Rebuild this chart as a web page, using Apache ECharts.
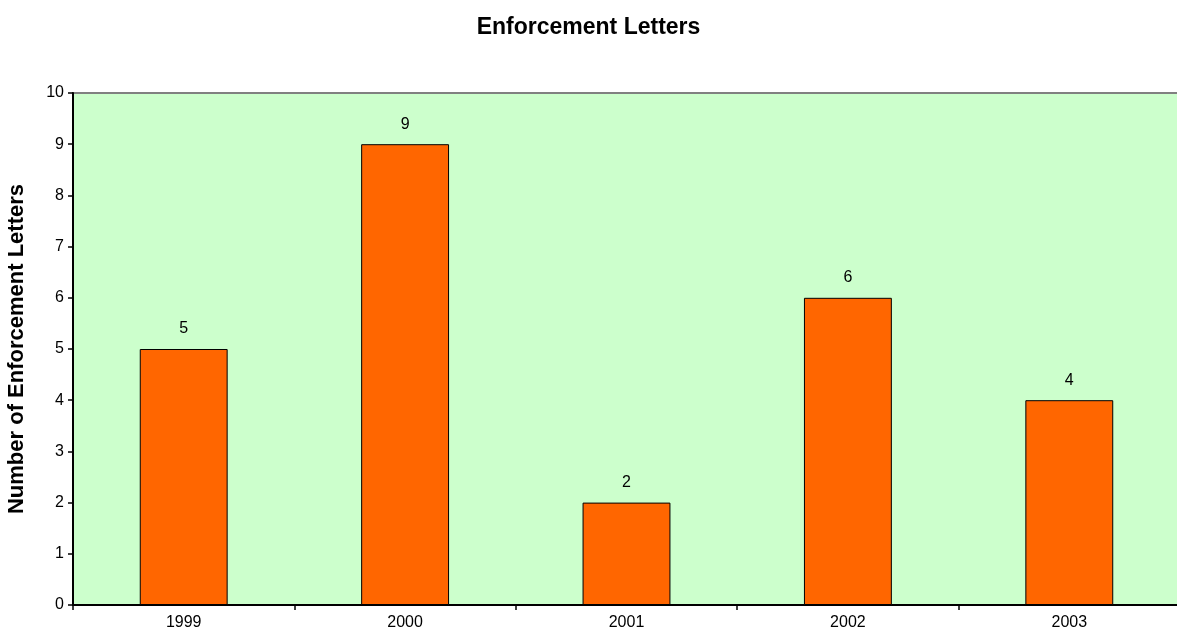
<!DOCTYPE html>
<html>
<head>
<meta charset="utf-8">
<script src="https://cdn.jsdelivr.net/npm/echarts@6/dist/echarts.min.js"></script>
<style>
  html, body { margin: 0; padding: 0; background: #fff; }
  #chart { width: 1177px; height: 642px; }
</style>
</head>
<body>
<div id="chart"></div>
<script>
// data
const years = ['1999', '2000', '2001', '2002', '2003'];
const letters = [5, 9, 2, 6, 4];
const yTicks = { min: 0, max: 10, interval: 1 };

const font = '"Liberation Sans", Arial, sans-serif';
const chart = echarts.init(document.getElementById('chart'));

chart.setOption({
    animation: false,
    title: {
        text: 'Enforcement Letters',
        left: 'center',
        top: 11,
        textStyle: { fontFamily: font, fontSize: 23, fontWeight: 'bold', color: '#000' }
    },
    grid: {
        left: 73,
        top: 93,
        width: 1107,
        height: 512,
        containLabel: false,
        outerBoundsMode: 'none',
        show: true,
        backgroundColor: '#ccffcc',
        borderColor: '#808080',
        borderWidth: 2
    },
    xAxis: {
        type: 'category',
        data: years,
        boundaryGap: true,
        axisLine: { lineStyle: { color: '#000', width: 2 } },
        axisTick: { show: true, length: 5, alignWithLabel: false, lineStyle: { color: '#000', width: 1.5 } },
        axisLabel: { fontFamily: font, fontSize: 16, color: '#000', margin: 10 }
    },
    yAxis: {
        type: 'value',
        min: yTicks.min,
        max: yTicks.max,
        interval: yTicks.interval,
        name: 'Number of Enforcement Letters',
        nameLocation: 'middle',
        nameGap: 45,
        nameTextStyle: { fontFamily: font, fontSize: 22, fontWeight: 'bold', color: '#000' },
        axisLine: { show: true, lineStyle: { color: '#000', width: 2 } },
        axisTick: { show: true, length: 5, lineStyle: { color: '#000', width: 1.5 } },
        axisLabel: { fontFamily: font, fontSize: 16, color: '#000', margin: 9 },
        splitLine: { show: false }
    },
    series: [{
        type: 'bar',
        data: letters,
        barWidth: '39.7%',
        itemStyle: { color: '#ff6600', borderColor: '#000', borderWidth: 1 },
        label: {
            show: true,
            position: 'top',
            distance: 12,
            fontFamily: font,
            fontSize: 16,
            color: '#000'
        }
    }]
});
</script>
</body>
</html>
